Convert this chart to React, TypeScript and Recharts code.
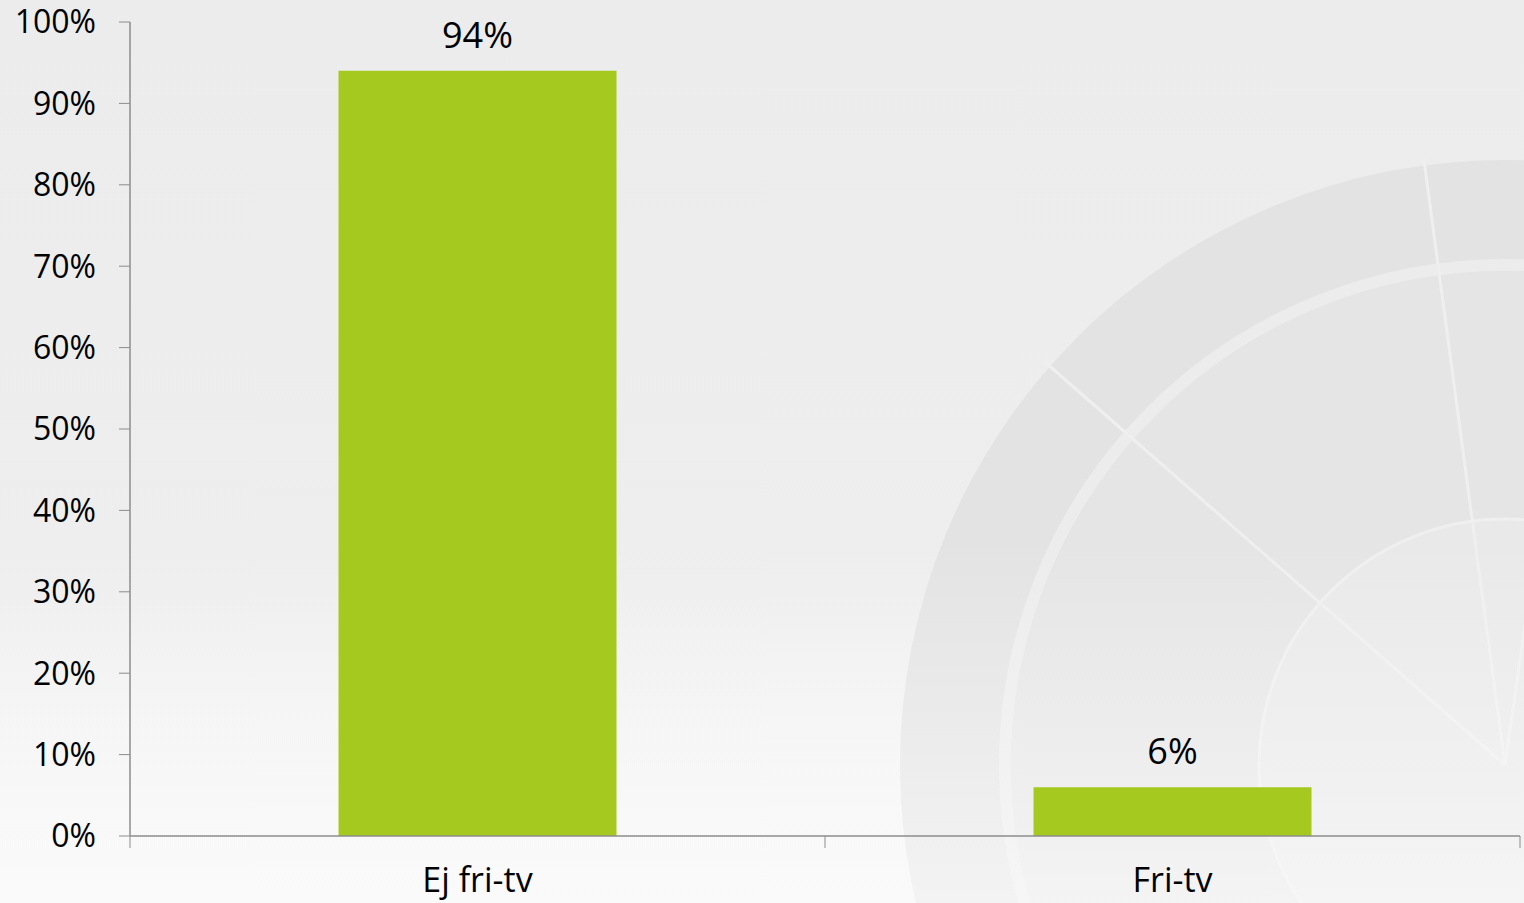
import { BarChart, Bar, XAxis, YAxis, LabelList } from "recharts";

// values
const categories = ["Ej fri-tv", "Fri-tv"];
const shares = [94, 6];
const yTicks = [0, 10, 20, 30, 40, 50, 60, 70, 80, 90, 100];

const data = categories.map((name, i) => ({ name, share: shares[i] }));

const W = 1524;
const H = 903;
const FONT = "'Open Sans', 'Noto Sans', sans-serif";
const AXIS = "#8c8c8c";
const PLOT_W = W - 130 - 4;

// category label plus tick marks at the band edges (like the original)
// recharts hands the tick y already pushed down by tickSize + tickMargin (6 + 2)
const CategoryTick = (props: any) => {
  const { x, y, payload, index, width } = props;
  const band = (typeof width === "number" && width > 0 ? width : PLOT_W) / categories.length;
  const half = band / 2;
  const axisY = y - 8;
  return (
    <g>
      <line x1={x - half} x2={x - half} y1={axisY} y2={axisY + 12} stroke={AXIS} strokeWidth={1} />
      {index === categories.length - 1 && (
        <line x1={x + half} x2={x + half} y1={axisY} y2={axisY + 12} stroke={AXIS} strokeWidth={1} />
      )}
      <text x={x} y={axisY + 56} textAnchor="middle" fontSize={34} fontFamily={FONT} fill="#000">
        {payload.value}
      </text>
    </g>
  );
};

const Background = () => (
  <svg width={W} height={H} style={{ position: "absolute", left: 0, top: 0 }}>
    <defs>
      <linearGradient id="bg" x1="0" y1="0" x2="0" y2="1">
        <stop offset="0" stopColor="#ececec" />
        <stop offset="0.65" stopColor="#eeeeee" />
        <stop offset="1" stopColor="#fafafa" />
      </linearGradient>
      <linearGradient id="fade" x1="0" y1="0" x2="0" y2="1">
        <stop offset="0" stopColor="#fafafa" stopOpacity="0" />
        <stop offset="0.6" stopColor="#fafafa" stopOpacity="0" />
        <stop offset="1" stopColor="#fafafa" stopOpacity="0.7" />
      </linearGradient>
    </defs>
    <rect width={W} height={H} fill="url(#bg)" />
    <g>
      <circle cx={1505} cy={765} r={605} fill="#e3e3e3" />
      <circle cx={1505} cy={765} r={500} fill="none" stroke="#ececec" strokeWidth={12} />
      <circle cx={1505} cy={765} r={494} fill="#e5e5e5" />
      <circle cx={1505} cy={765} r={246} fill="#e9e9e9" stroke="#efefef" strokeWidth={3} />
      <line x1={1505} y1={765} x2={1424} y2={160} stroke="#efefef" strokeWidth={3} />
      <line x1={1505} y1={765} x2={1045} y2={362} stroke="#efefef" strokeWidth={3} />
      <line x1={1505} y1={765} x2={1540} y2={520} stroke="#efefef" strokeWidth={3} />
    </g>
    <rect width={W} height={H} fill="url(#fade)" />
  </svg>
);

export default function App() {
  return (
    <div style={{ position: "absolute", left: 0, top: 0, width: W, height: H, overflow: "hidden" }}>
      <Background />
      <div style={{ position: "absolute", left: 0, top: 0 }}>
        <BarChart
          width={W}
          height={H}
          data={data}
          margin={{ top: 22, right: 4, bottom: 0, left: 0 }}
          barCategoryGap="30%"
        >
          <XAxis
            dataKey="name"
            height={67}
            axisLine={{ stroke: AXIS, strokeWidth: 1.5 }}
            tickLine={false}
            tick={<CategoryTick />}
            interval={0}
          />
          <YAxis
            width={130}
            domain={[0, 100]}
            ticks={yTicks}
            interval={0}
            tickFormatter={(v) => `${v}%`}
            axisLine={{ stroke: AXIS, strokeWidth: 1.5 }}
            tickLine={{ stroke: AXIS, strokeWidth: 1 }}
            tickSize={11}
            tickMargin={23}
            tick={{ fontSize: 32, fontFamily: FONT, fill: "#000" }}
          />
          <Bar dataKey="share" fill="#a6c91f" isAnimationActive={false}>
            <LabelList
              dataKey="share"
              position="top"
              offset={23}
              formatter={(v: any) => `${v}%`}
              style={{ fontSize: 36, fontFamily: FONT, fill: "#000" }}
            />
          </Bar>
        </BarChart>
      </div>
    </div>
  );
}
